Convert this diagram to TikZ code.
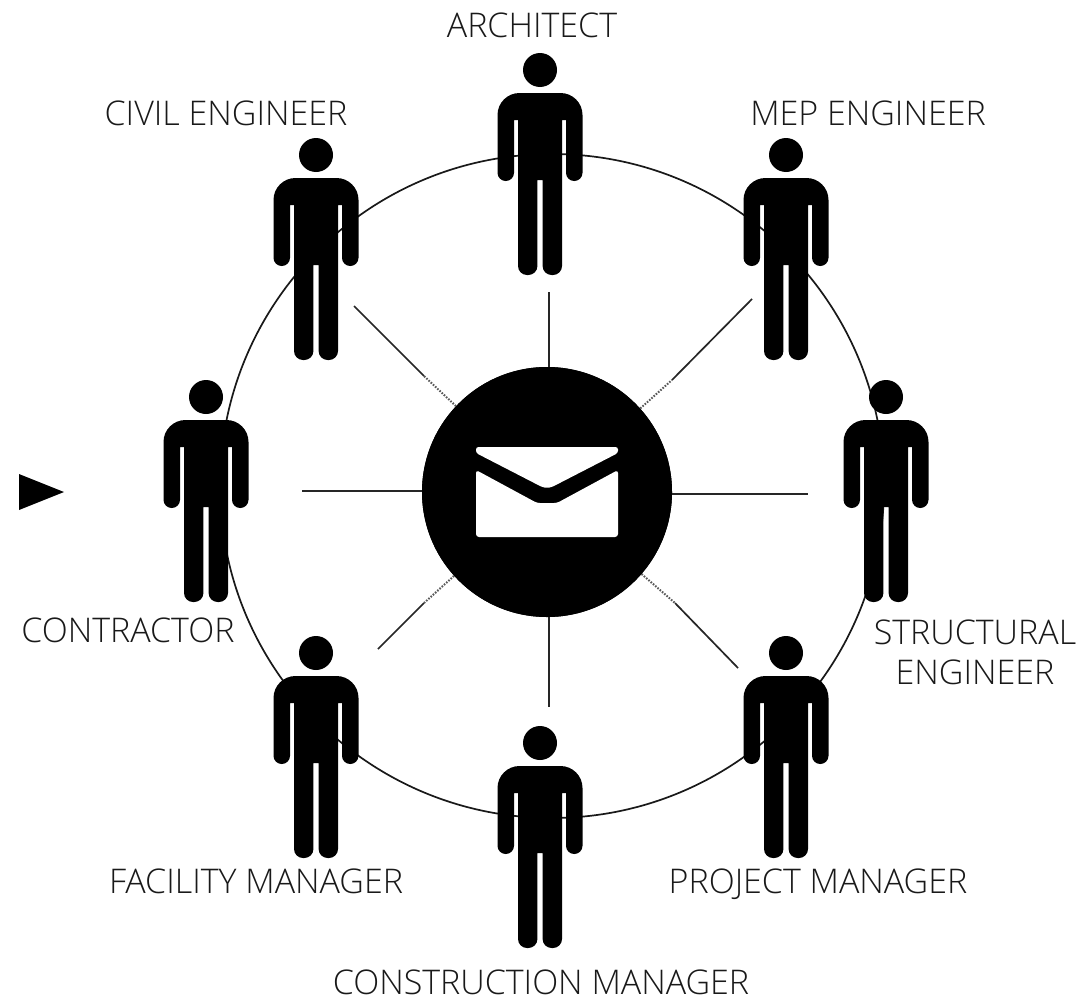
\documentclass[tikz,border=0pt]{standalone}
\usepackage{fontspec}
\setmainfont{Open Sans Light}[BoldFont={Open Sans}]
\tikzset{
  ringline/.style={circle,draw=black!90,line width=1.7pt,minimum size=664pt,inner sep=0pt,fill=none},
  hubdisc/.style={circle,fill=black,minimum size=250pt,inner sep=0pt},
  spoke/.style={draw=black!85,line width=1.7pt},
  spokefade/.style={draw=black!65,line width=2pt,dash pattern=on 1.6pt off 1.4pt},
  lbl/.style={font=\fontsize{34}{40}\selectfont,text=black!90,align=center,inner sep=0pt},
  pics/person/.style={code={
    \fill (0,0) circle[radius=17pt];
    \fill (-42.5,60) [rounded corners=22pt] -- (-42.5,23) -- (42.5,23) [rounded corners=8.2pt] -- (42.5,111) -- (26,111)
      [sharp corners] -- (26,50) -- (22,50) [rounded corners=9pt] -- (22,205) -- (2.6,205)
      [sharp corners] -- (2.6,110) -- (-2.6,110) [rounded corners=9pt] -- (-2.6,205) -- (-22,205)
      [sharp corners] -- (-22,50) -- (-26,50) [rounded corners=8.2pt] -- (-26,111) -- (-42.5,111) [sharp corners] -- cycle;
  }}
}
\begin{document}
\begin{tikzpicture}[x=1pt,y=-1pt]
\useasboundingbox[fill=white] (0,0) rectangle (1081,1001);
\node[ringline] (ring) at (552,486) {};
\node[hubdisc] (hub) at (547,492) {};
% spoke ends
\coordinate (endT) at (549,292);
\coordinate (endB) at (549,707);
\coordinate (endL) at (302,491);
\coordinate (endR) at (808,494);
\coordinate (endUL) at (354,306);
\coordinate (endUR) at (752,299);
\coordinate (endLL) at (378,649);
\coordinate (endLR) at (738,668);
\coordinate (midUL) at (424,376);
\coordinate (midUR) at (672,380);
\coordinate (midLL) at (424,603);
\coordinate (midLR) at (675,603);
\draw[spoke] (endT |- hub.north) -- (endT);
\draw[spoke] (endB |- hub.south) -- (endB);
\draw[spoke] (hub.west |- endL) -- (endL);
\draw[spoke] (hub.east |- endR) -- (endR);
\draw[spoke] (midUL) -- (endUL);
\draw[spoke] (midUR) -- (endUR);
\draw[spoke] (midLL) -- (endLL);
\draw[spoke] (midLR) -- (endLR);
\draw[spokefade] (hub) -- (midUL);
\draw[spokefade] (hub) -- (midUR);
\draw[spokefade] (hub) -- (midLL);
\draw[spokefade] (hub) -- (midLR);
\node[hubdisc] at (hub) {};
% envelope
\fill[white,rounded corners=2.5pt] (476,447) -- (618,447) -- (618,453) -- (552,487) -- (547,488) -- (542,487) -- (476,453) -- cycle;
\fill[white,rounded corners=3pt] (476,470) -- (537,503) -- (557,503) -- (618,470) -- (618,537) -- (476,537) -- cycle;
% people
\pic at (540,70) {person};
\pic at (316,155) {person};
\pic at (786,155) {person};
\pic at (206,397) {person};
\pic at (886,397) {person};
\pic at (316,653) {person};
\pic at (786,653) {person};
\pic at (540,743) {person};
% marker
\fill (19,474) -- (64,492) -- (19,510) -- cycle;
% labels
\node[lbl] (lArch) at (532,25) {ARCHITECT};
\node[lbl] (lCivil) at (226,113) {CIVIL ENGINEER};
\node[lbl] (lMep) at (868,113) {MEP ENGINEER};
\node[lbl] (lCont) at (128,630) {CONTRACTOR};
\node[lbl] (lStruct) at (975,652) {STRUCTURAL\\ENGINEER};
\node[lbl] (lFac) at (256,881) {FACILITY MANAGER};
\node[lbl] (lProj) at (818,884) {PROJECT MANAGER};
\node[lbl] (lCons) at (541,982) {CONSTRUCTION MANAGER};
\end{tikzpicture}
\end{document}
